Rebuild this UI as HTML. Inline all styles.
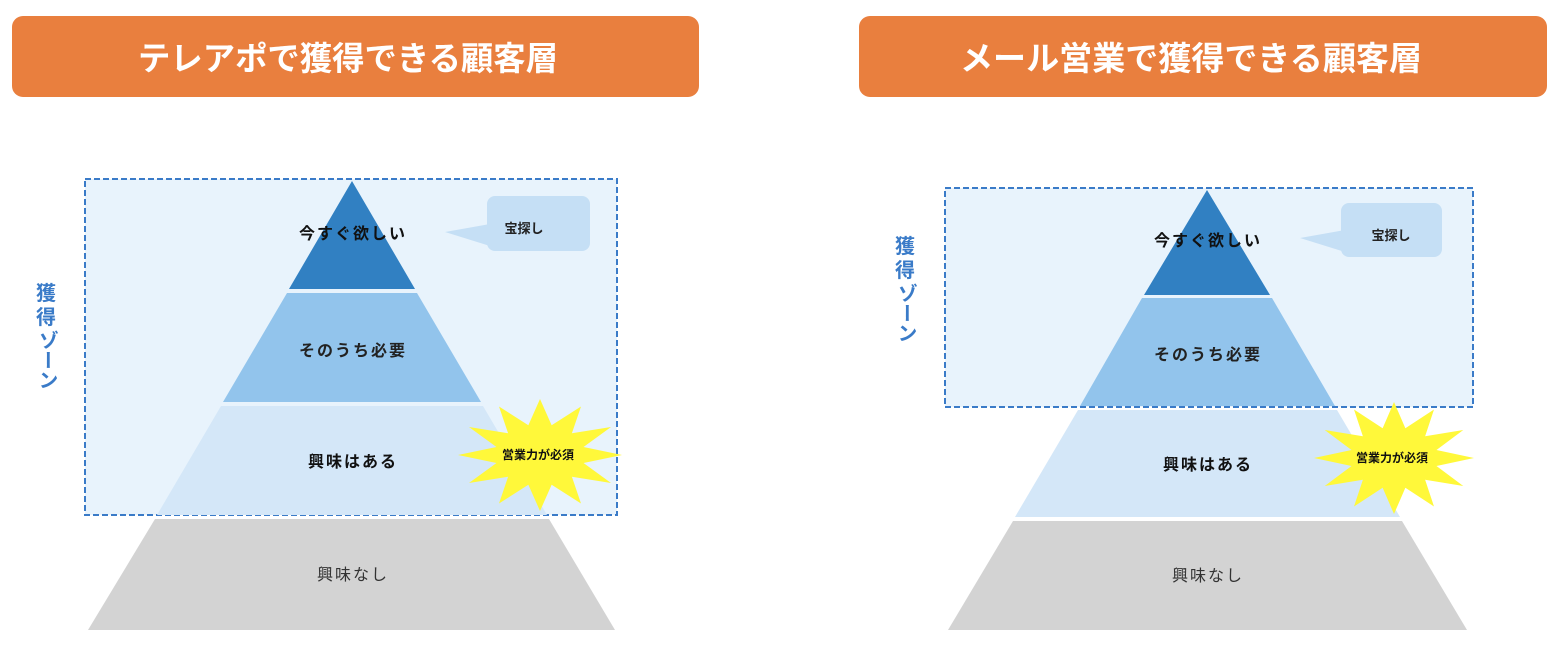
<!DOCTYPE html>
<html><head><meta charset="utf-8"><style>
html,body{margin:0;padding:0;background:#fff;}
svg{display:block;}
text{font-family:"Liberation Sans","Noto Sans CJK JP",sans-serif;}
</style></head><body>
<svg width="1562" height="648" viewBox="0 0 1562 648" xmlns="http://www.w3.org/2000/svg">
<defs>
<polygon id="star" points="1,0 0.531,0.142 0.866,0.5 0.389,0.389 0.5,0.866 0.142,0.531 0,1 -0.142,0.531 -0.5,0.866 -0.389,0.389 -0.866,0.5 -0.531,0.142 -1,0 -0.531,-0.142 -0.866,-0.5 -0.389,-0.389 -0.5,-0.866 -0.142,-0.531 0,-1 0.142,-0.531 0.5,-0.866 0.389,-0.389 0.866,-0.5 0.531,-0.142" fill="#fff83a"/>
</defs>
<!-- headers -->
<rect x="12" y="16" width="687" height="81" rx="11" fill="#e97f3e"/>
<text x="348" y="70" font-size="33" font-weight="bold" fill="#fff" text-anchor="middle" textLength="420" lengthAdjust="spacingAndGlyphs">テレアポで獲得できる顧客層</text>
<rect x="859" y="16" width="688" height="81" rx="11" fill="#e97f3e"/>
<text x="1191" y="70" font-size="33" font-weight="bold" fill="#fff" text-anchor="middle" textLength="462" lengthAdjust="spacingAndGlyphs">メール営業で獲得できる顧客層</text>

<!-- LEFT -->
<rect x="85" y="179" width="532" height="336" fill="#e8f3fc" stroke="#3a7bc8" stroke-width="2" stroke-dasharray="6,3"/>
<polygon points="352,181 415,289 289,289" fill="#3180c2"/>
<polygon points="287,293 417,293 481,402 223,402" fill="#92c4ec"/>
<polygon points="221,406 483,406 547,515 157,515" fill="#d4e7f8"/>
<polygon points="155,519 549,519 615,630 88,630" fill="#d3d3d3"/>
<rect x="487" y="196" width="103" height="55" rx="8" fill="#c5dff5"/>
<polygon points="445,232 490,224 490,246" fill="#c5dff5"/>
<text x="524" y="233" font-size="13" font-weight="bold" fill="#222" text-anchor="middle">宝探し</text>
<g font-size="16" font-weight="bold" text-anchor="middle" letter-spacing="2">
<text x="353" y="239" fill="#111">今すぐ欲しい</text>
<text x="353" y="356" fill="#222">そのうち必要</text>
<text x="353" y="467" fill="#111">興味はある</text>
</g>
<text x="353" y="580" font-size="16" fill="#333" text-anchor="middle" letter-spacing="2">興味なし</text>
<use href="#star" transform="translate(540,455) scale(82,56)"/>
<text x="538" y="459" font-size="12" font-weight="bold" fill="#111" text-anchor="middle">営業力が必須</text>
<g font-size="20" font-weight="bold" fill="#3a7bc8" text-anchor="middle">
<text x="46" y="300">獲</text><text x="46" y="324">得</text>
</g>
<text x="46" y="330" font-size="20" font-weight="bold" fill="#3a7bc8" style="writing-mode:vertical-rl">ゾーン</text>

<!-- RIGHT -->
<rect x="945" y="188" width="528" height="219" fill="#e8f3fc" stroke="#3a7bc8" stroke-width="2" stroke-dasharray="6,3"/>
<polygon points="1207,190 1270,295 1144,295" fill="#3180c2"/>
<polygon points="1142,298 1272,298 1335,406 1080,406" fill="#92c4ec"/>
<polygon points="1078,410 1337,410 1400,517 1015,517" fill="#d4e7f8"/>
<polygon points="1013,521 1402,521 1467,630 948,630" fill="#d3d3d3"/>
<rect x="1341" y="203" width="101" height="54" rx="8" fill="#c5dff5"/>
<polygon points="1300,238 1345,230 1345,252" fill="#c5dff5"/>
<text x="1391" y="240" font-size="13" font-weight="bold" fill="#222" text-anchor="middle">宝探し</text>
<g font-size="16" font-weight="bold" text-anchor="middle" letter-spacing="2">
<text x="1208" y="246" fill="#111">今すぐ欲しい</text>
<text x="1208" y="360" fill="#222">そのうち必要</text>
<text x="1208" y="470" fill="#111">興味はある</text>
</g>
<text x="1208" y="581" font-size="16" fill="#333" text-anchor="middle" letter-spacing="2">興味なし</text>
<use href="#star" transform="translate(1394,458) scale(80,56)"/>
<text x="1392" y="462" font-size="12" font-weight="bold" fill="#111" text-anchor="middle">営業力が必須</text>
<g font-size="20" font-weight="bold" fill="#3a7bc8" text-anchor="middle">
<text x="905" y="253">獲</text><text x="905" y="277">得</text>
</g>
<text x="905" y="283" font-size="20" font-weight="bold" fill="#3a7bc8" style="writing-mode:vertical-rl">ゾーン</text>
</svg>
</body></html>
